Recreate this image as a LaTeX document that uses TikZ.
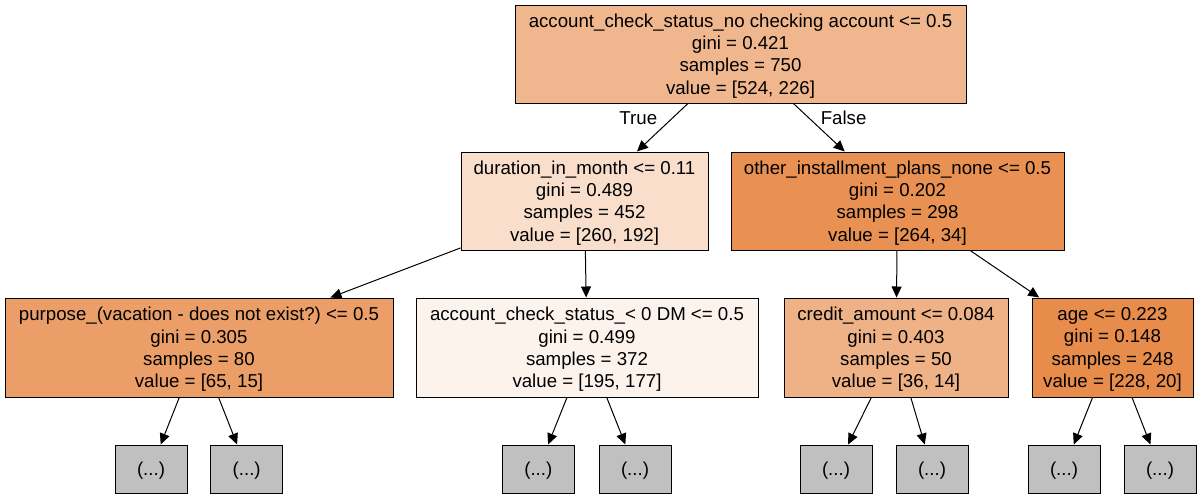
\documentclass[tikz,border=0pt]{standalone}
\usepackage{fontspec}
\setmainfont{Liberation Sans}
\usetikzlibrary{arrows.meta}
\definecolor{ctop}{RGB}{240,183,142}
\definecolor{cl}{RGB}{248,222,203}
\definecolor{cr}{RGB}{232,145,83}
\definecolor{cll}{RGB}{235,158,103}
\definecolor{clr}{RGB}{253,243,237}
\definecolor{crl}{RGB}{239,178,134}
\definecolor{crr}{RGB}{231,140,74}
\definecolor{cleaf}{RGB}{192,192,192}
\frenchspacing

\begin{document}
\begin{tikzpicture}[x=1pt,y=-1pt,
    box/.style={draw=black,line width=1pt,rectangle,align=center,
        font=\fontsize{18.67}{22.4}\selectfont,inner sep=0pt,text depth=0pt},
    leaf/.style={box,fill=cleaf,minimum width=72pt,minimum height=48pt},
    edge/.style={line width=1pt,-{Triangle[length=11pt,width=10pt]}},
    lab/.style={inner sep=0pt,font=\fontsize{18.67}{22.4}\selectfont}]
    \useasboundingbox (0,0) rectangle (1202,499);

    \node[box,fill=ctop,minimum width=451pt,minimum height=98pt] (t) at (740.5,54)
        {account\_check\_status\_no checking account <= 0.5\\gini = 0.421\\samples = 750\\value = [524, 226]};
    \node[box,fill=cl,minimum width=247pt,minimum height=98pt] (tl) at (584.5,201)
        {duration\_in\_month <= 0.11\\gini = 0.489\\samples = 452\\value = [260, 192]};
    \node[box,fill=cr,minimum width=333pt,minimum height=98pt] (tr) at (897.5,201)
        {other\_installment\_plans\_none <= 0.5\\gini = 0.202\\samples = 298\\value = [264, 34]};

    \node[box,fill=cll,minimum width=388pt,minimum height=99pt] (tll) at (199,347.5)
        {purpose\_(vacation - does not exist?) <= 0.5\\gini = 0.305\\samples = 80\\value = [65, 15]};
    \node[box,fill=clr,minimum width=342pt,minimum height=99pt] (tlr) at (587,347.5)
        {account\_check\_status\_< 0 DM <= 0.5\\gini = 0.499\\samples = 372\\value = [195, 177]};
    \node[box,fill=crl,minimum width=224pt,minimum height=99pt] (trl) at (896,347.5)
        {credit\_amount <= 0.084\\gini = 0.403\\samples = 50\\value = [36, 14]};
    \node[box,fill=crr,minimum width=161pt,minimum height=99pt] (trr) at (1112.5,347.5)
        {age <= 0.223\\gini = 0.148\\samples = 248\\value = [228, 20]};

    \node[leaf] (tll1) at (151,469) {(...)};
    \node[leaf] (tll2) at (246.7,469) {(...)};
    \node[leaf] (tlr1) at (538.3,469) {(...)};
    \node[leaf] (tlr2) at (635,469) {(...)};
    \node[leaf] (trl1) at (836,469) {(...)};
    \node[leaf] (trl2) at (932,469) {(...)};
    \node[leaf] (trr1) at (1064,469) {(...)};
    \node[leaf] (trr2) at (1160,469) {(...)};

    \draw[edge] (t) -- node[lab,pos=0.3,left=15pt]{True} (tl);
    \draw[edge] (t) -- node[lab,pos=0.3,right=11.5pt]{False} (tr);
    \draw[edge] (tl) -- (tll);
    \draw[edge] (tl) -- (tlr);
    \draw[edge] (tr) -- (trl);
    \draw[edge] (tr) -- (trr);

    \foreach \n in {tll,tlr,trl,trr}
    {
    \draw[edge] (\n) -- (\n1);
    \draw[edge] (\n) -- (\n2);
    }
\end{tikzpicture}
\end{document}
